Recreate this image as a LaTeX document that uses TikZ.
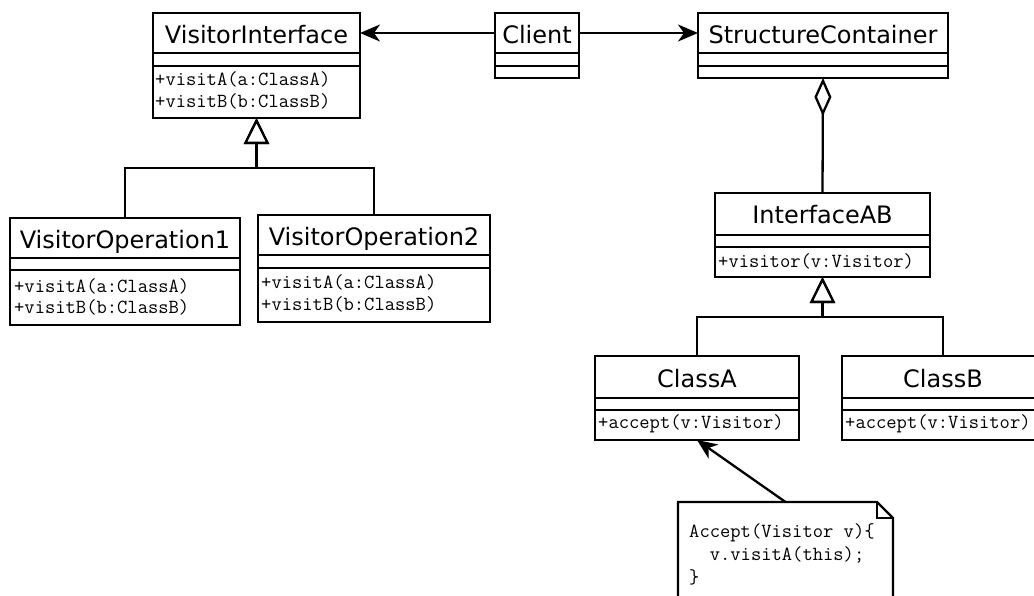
\documentclass[tikz,border=0pt]{standalone}
\usepackage{fontspec}
\newfontfamily\titlefont{DejaVu Sans}
\usetikzlibrary{arrows.meta}
\tikzset{
  umlline/.style={line width=2.3pt, draw=black},
  classbox/.style={draw=black, line width=2.3pt, fill=white, inner sep=0pt, outer sep=0pt},
  cname/.style={font=\titlefont\fontsize{24}{24}\selectfont, inner sep=0pt, anchor=base},
  cop/.style={font=\ttfamily\fontsize{20}{22}\selectfont\addfontfeatures{FakeBold=1.2}, inner sep=0pt, anchor=base west},
  assoc/.style={line width=2.3pt, -{Stealth[length=20pt,width=17pt,inset=6pt]}},
  gen/.style={line width=2.3pt, -{Triangle[open,length=26pt,width=25pt,fill=white]}},
  aggr/.style={line width=2.3pt, {Diamond[open,length=38pt,width=17pt,fill=white]}-},
}
% name, x1, y1, x2, y2, line1, line2, title baseline, title
\newcommand\umlcls[9]{%
  \node[classbox, minimum width={(#4-#2)*1pt}, minimum height={(#5-#3)*1pt}, anchor=north west] (#1) at (#2,#3) {};
  \draw[umlline] (#2,#6) -- (#4,#6) (#2,#7) -- (#4,#7);
  \node[cname] (#1-t) at ({(#2+#4)/2},#8) {#9};}
\begin{document}
\begin{tikzpicture}[x=1pt,y=-1pt]
\useasboundingbox (0,0) rectangle (1034,595);
\clip (0,0) rectangle (1034,595);
\fill[white] (0,0) rectangle (1034,595);

\umlcls{vi}{153}{13}{360}{118}{53}{66}{43}{VisitorInterface}
\node[cop] (vi-a) at (155,85) {+visitA(a:ClassA)};
\node[cop] (vi-b) at (155,107) {+visitB(b:ClassB)};

\umlcls{client}{495}{13}{579}{78}{53}{66}{43}{Client}
\umlcls{sc}{698}{13}{948}{78}{53}{66}{43}{StructureContainer}

\umlcls{vo1}{10}{218}{240}{325}{258}{270}{248}{VisitorOperation1}
\node[cop] (vo1-a) at (14,292) {+visitA(a:ClassA)};
\node[cop] (vo1-b) at (14,313) {+visitB(b:ClassB)};

\umlcls{vo2}{258}{215}{490}{322}{255}{268}{245}{VisitorOperation2}
\node[cop] (vo2-a) at (261,288) {+visitA(a:ClassA)};
\node[cop] (vo2-b) at (261,310) {+visitB(b:ClassB)};

\umlcls{iab}{715}{193}{930}{277}{235}{247}{223}{InterfaceAB}
\node[cop] (iab-a) at (718,267) {+visitor(v:Visitor)};

\umlcls{classa}{595}{356}{799}{440}{398}{410}{387}{ClassA}
\node[cop] (classa-a) at (598,428) {+accept(v:Visitor)};

\umlcls{classb}{842}{356}{1044}{440}{398}{410}{387}{ClassB}
\node[cop] (classb-a) at (845,428) {+accept(v:Visitor)};

% note
\node[inner sep=0pt, outer sep=0pt, minimum width=215pt, minimum height=110pt, anchor=north west] (note) at (678,502) {};
\draw[umlline, fill=white] (note.north west) -- ([xshift=-16pt]note.north east) -- ([yshift=-16pt]note.north east) -- (note.south east) -- (note.south west) -- cycle;
\draw[line width=1.2pt] ([xshift=-16pt]note.north east) |- ([yshift=-16pt]note.north east);
\node[cop] (note-1) at (689,537) {Accept(Visitor v)\{};
\node[cop] (note-2) at (689,560) {\ \ v.visitA(this);};
\node[cop] (note-3) at (689,583) {\}};

% connectors
\draw[assoc] ([yshift=-20pt]client.north west) -- ([yshift=-20pt]vi.north east);
\draw[assoc] ([yshift=-20pt]client.north east) -- ([yshift=-20pt]sc.north west);
\draw[aggr] (sc.south) -- (iab.north);
\draw[gen] (vo1.north) |- ([yshift=-50pt]vi.south) -- (vi.south);
\draw[gen] (vo2.north) |- ([yshift=-50pt]vi.south) -- (vi.south);
\draw[gen] (classa.north) |- ([yshift=-40pt]iab.south) -- (iab.south);
\draw[gen] (classb.north) |- ([yshift=-40pt]iab.south) -- (iab.south);
\draw[assoc] (note.north) -- (classa.south);
\end{tikzpicture}
\end{document}
